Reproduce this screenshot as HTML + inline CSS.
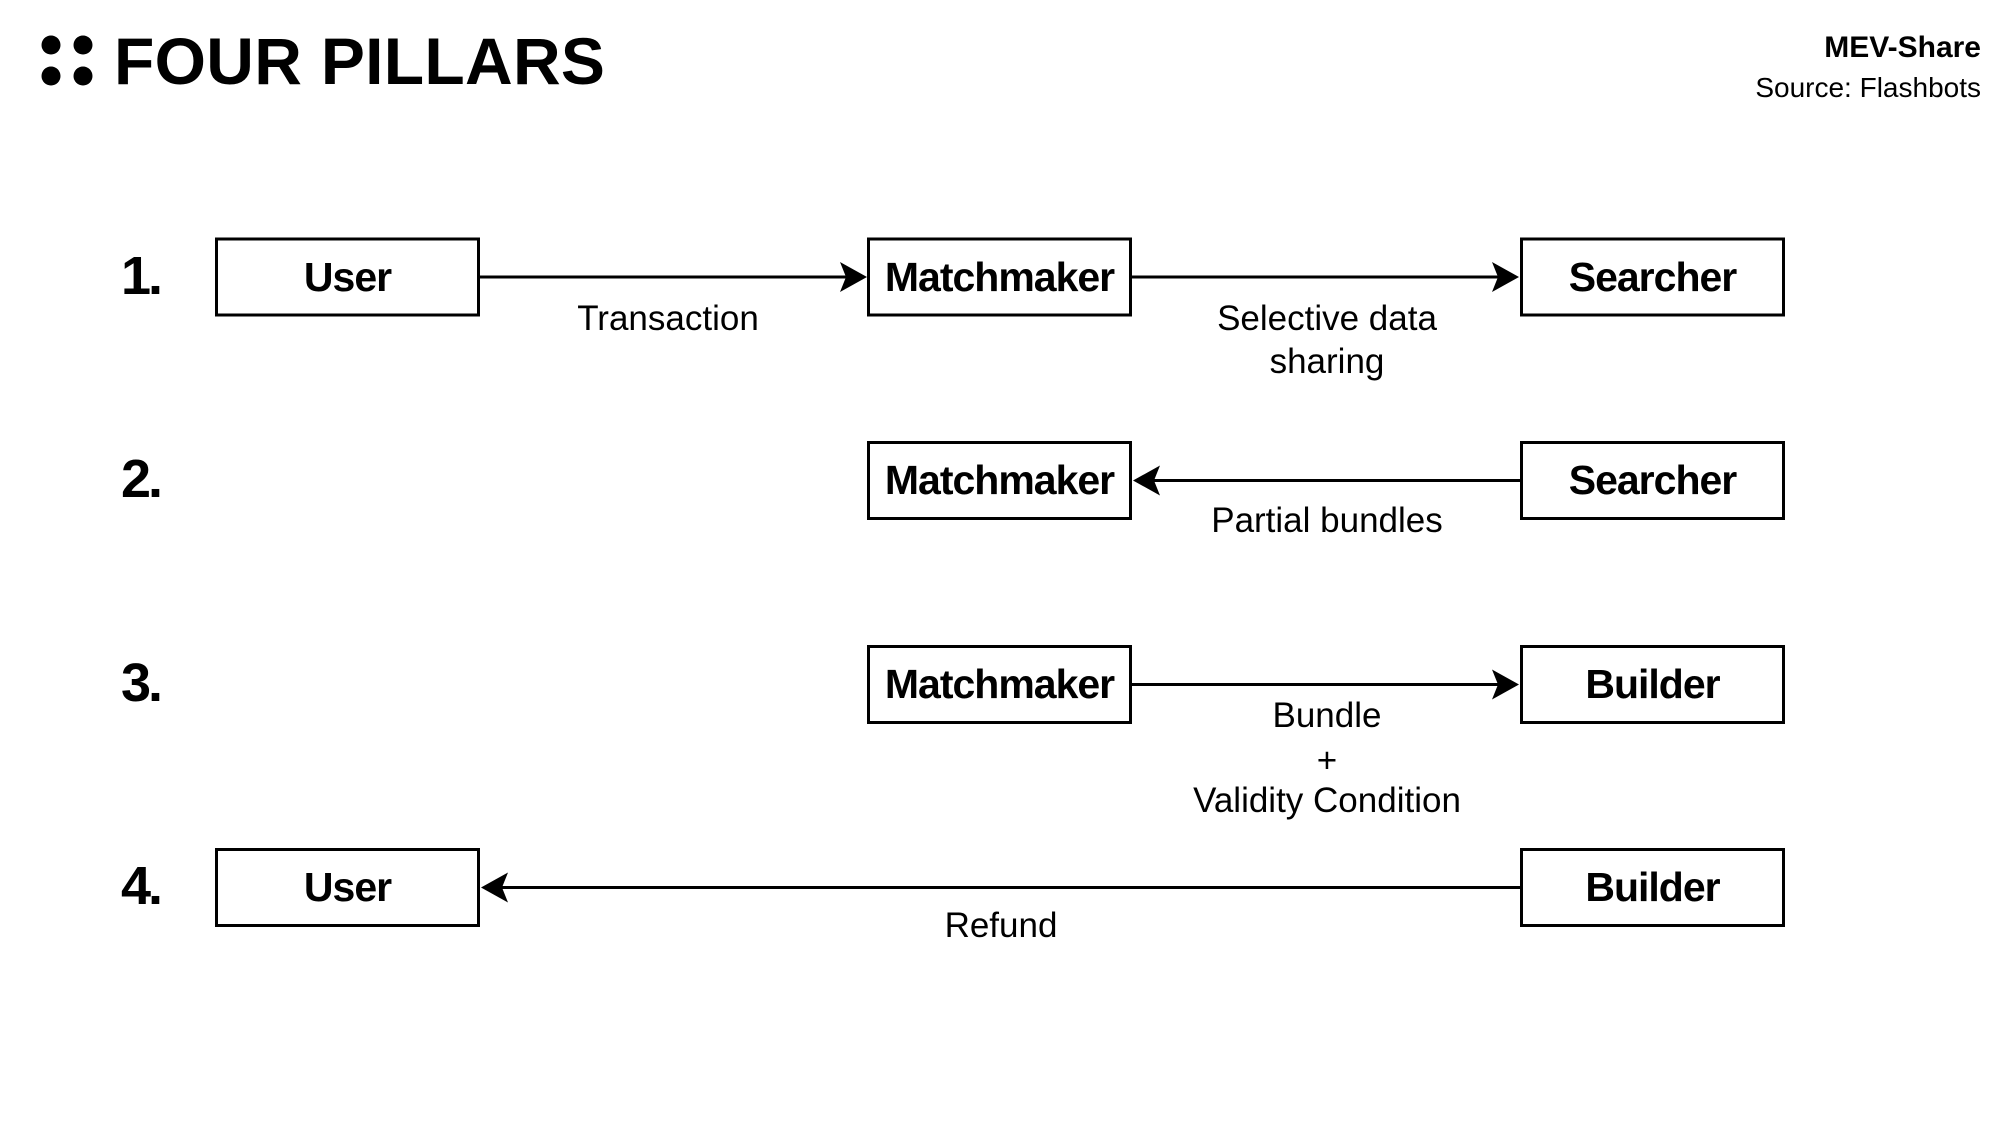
<!DOCTYPE html>
<html>
<head>
<meta charset="utf-8">
<style>
  html, body { margin: 0; padding: 0; background: #ffffff; }
  body { width: 2000px; height: 1123px; overflow: hidden; }
  svg { display: block; }
  text { font-family: "Liberation Sans", Arial, sans-serif; fill: #000; }
  .box { fill: #fff; stroke: #000; stroke-width: 3; }
  .ln { stroke: #000; stroke-width: 3; fill: none; }
  .bt { font-weight: bold; font-size: 41px; letter-spacing: -1px; text-anchor: middle; }
  .lb { font-size: 35px; text-anchor: middle; }
  .num { font-weight: bold; font-size: 54px; letter-spacing: -3px; }
</style>
</head>
<body>
<svg width="2000" height="1123" viewBox="0 0 2000 1123" xmlns="http://www.w3.org/2000/svg">
  <rect x="0" y="0" width="2000" height="1123" fill="#fff"/>

  <!-- Title -->
  <circle cx="51" cy="45" r="9.5" fill="#000"/>
  <circle cx="83" cy="45" r="9.5" fill="#000"/>
  <circle cx="51" cy="76" r="9.5" fill="#000"/>
  <circle cx="83" cy="76" r="9.5" fill="#000"/>
  <text x="114" y="84" font-size="66" font-weight="bold" letter-spacing="0.3">FOUR PILLARS</text>

  <text x="1981" y="57" font-size="30" font-weight="bold" text-anchor="end">MEV-Share</text>
  <text x="1981" y="97" font-size="28" text-anchor="end">Source: Flashbots</text>

  <!-- Row numbers -->
  <text class="num" x="121" y="294">1.</text>
  <text class="num" x="121" y="497">2.</text>
  <text class="num" x="121" y="701">3.</text>
  <text class="num" x="121" y="904">4.</text>

  <!-- Row 1 -->
  <rect class="box" x="216.5" y="239" width="262" height="76"/>
  <text class="bt" x="347.5" y="291">User</text>
  <rect class="box" x="868.5" y="239" width="262" height="76"/>
  <text class="bt" x="999.5" y="291">Matchmaker</text>
  <rect class="box" x="1521.5" y="239" width="262" height="76"/>
  <text class="bt" x="1652.5" y="291">Searcher</text>

  <line class="ln" x1="480" y1="277" x2="850" y2="277"/>
  <path d="M867,277 L840,262 L846,277 L840,292 Z" fill="#000"/>
  <line class="ln" x1="1132" y1="277" x2="1502" y2="277"/>
  <path d="M1519,277 L1492,262 L1498,277 L1492,292 Z" fill="#000"/>

  <text class="lb" x="668" y="330">Transaction</text>
  <text class="lb" x="1327" y="330">Selective data</text>
  <text class="lb" x="1327" y="373">sharing</text>

  <!-- Row 2 -->
  <rect class="box" x="868.5" y="442.5" width="262" height="76"/>
  <text class="bt" x="999.5" y="494">Matchmaker</text>
  <rect class="box" x="1521.5" y="442.5" width="262" height="76"/>
  <text class="bt" x="1652.5" y="494">Searcher</text>

  <line class="ln" x1="1520" y1="480.5" x2="1150" y2="480.5"/>
  <path d="M1133,480.5 L1160,465.5 L1154,480.5 L1160,495.5 Z" fill="#000"/>
  <text class="lb" x="1327" y="532">Partial bundles</text>

  <!-- Row 3 -->
  <rect class="box" x="868.5" y="646.5" width="262" height="76"/>
  <text class="bt" x="999.5" y="698">Matchmaker</text>
  <rect class="box" x="1521.5" y="646.5" width="262" height="76"/>
  <text class="bt" x="1652.5" y="698">Builder</text>

  <line class="ln" x1="1132" y1="684.5" x2="1502" y2="684.5"/>
  <path d="M1519,684.5 L1492,669.5 L1498,684.5 L1492,699.5 Z" fill="#000"/>
  <text class="lb" x="1327" y="727">Bundle</text>
  <text class="lb" x="1327" y="772">+</text>
  <text class="lb" x="1327" y="812">Validity Condition</text>

  <!-- Row 4 -->
  <rect class="box" x="216.5" y="849.5" width="262" height="76"/>
  <text class="bt" x="347.5" y="901">User</text>
  <rect class="box" x="1521.5" y="849.5" width="262" height="76"/>
  <text class="bt" x="1652.5" y="901">Builder</text>

  <line class="ln" x1="1520" y1="887.5" x2="497" y2="887.5"/>
  <path d="M481,887.5 L508,872.5 L502,887.5 L508,902.5 Z" fill="#000"/>
  <text class="lb" x="1001" y="937">Refund</text>
</svg>
</body>
</html>
